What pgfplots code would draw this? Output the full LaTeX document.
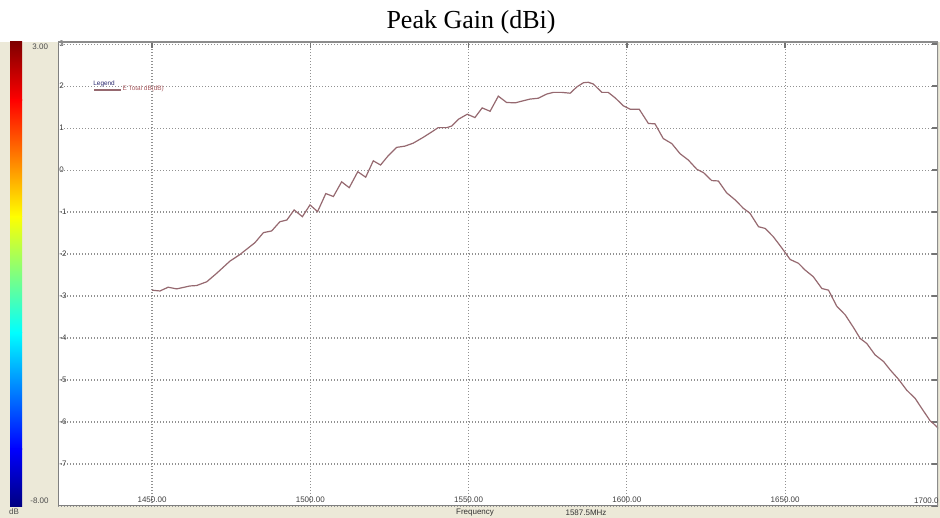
\documentclass[border=0pt]{standalone}
\usepackage{pgfplots}
\pgfplotsset{compat=1.18}
\usepackage{fontspec}
\setmainfont{Liberation Serif}
\newfontfamily\ui{Liberation Sans}
\definecolor{beige}{RGB}{236,233,216}
\definecolor{curve}{RGB}{150,105,112}
\definecolor{gridc}{RGB}{145,145,145}
\definecolor{lgnd}{RGB}{40,40,110}
\definecolor{lgtxt}{RGB}{170,90,95}
\newcommand{\sm}{\ui\fontsize{4}{4.8}\selectfont}
\newcommand{\lgf}{\ui\fontsize{3.2}{3.8}\selectfont}

\begin{document}
\begin{tikzpicture}[x=0.5pt,y=0.5pt]
\useasboundingbox (0,0) rectangle (940,518);
\fill[white] (0,0) rectangle (940,518);
\fill[beige] (0,0) rectangle (940,476);
% colour bar (jet)
\shade[bottom color={rgb,255:red,255;green,0;blue,0}, top color={rgb,255:red,128;green,0;blue,0}] (10,417.6) rectangle (22,476);
\shade[bottom color={rgb,255:red,255;green,255;blue,0}, top color={rgb,255:red,255;green,0;blue,0}] (10,301.3) rectangle (22,418);
\shade[bottom color={rgb,255:red,0;green,255;blue,255}, top color={rgb,255:red,255;green,255;blue,0}] (10,185.1) rectangle (22,301.7);
\shade[bottom color={rgb,255:red,0;green,0;blue,255}, top color={rgb,255:red,0;green,255;blue,255}] (10,68.8) rectangle (22,185.5);
\shade[bottom color={rgb,255:red,0;green,0;blue,128}, top color={rgb,255:red,0;green,0;blue,255}] (10,11) rectangle (22,69.2);
\node[font=\sm, text=black!70, anchor=north west, inner sep=0pt] at (32,474) {3.00};
\node[font=\sm, text=black!70, anchor=south west, inner sep=0pt] at (30,14) {-8.00};
\node[font=\sm, text=black!70, anchor=center, inner sep=0pt] at (14,6) {dB};
\node[font=\sm, text=black!80, anchor=center, inner sep=0pt] at (475,5) {Frequency};
\node[font=\sm, text=black!80, anchor=center, inner sep=0pt] at (586,5) {1587.5MHz};
\node[font=\fontsize{13}{15}\selectfont, anchor=base] at (471,489) {Peak Gain (dBi)};

\begin{axis}[at={(29pt,6pt)}, anchor=south west, width=440pt, height=232pt, scale only axis,
  xmin=1420.3, xmax=1698.3, ymin=-8, ymax=3.05,
  axis background/.style={fill=white},
  axis line style={draw=none},
  xtick={1450,1500,1550,1600,1650},
  xticklabels={1450.00,1500.00,1550.00,1600.00,1650.00},
  ytick={-8,-7,-6,-5,-4,-3,-2,-1,0,1,2,3},
  yticklabels={,-7,-6,-5,-4,-3,-2,-1,0,1,2,3},
  xtick pos=right, ytick pos=right, xticklabel pos=left, yticklabel pos=left,
  tick align=inside, major tick length=3pt,
  tick style={black!55, line width=0.7pt},
  grid=major,
  major grid style={gridc, line width=0.55pt, dash pattern=on 0.5pt off 1pt},
  xticklabel style={font=\sm, anchor=south, yshift=1pt, text=black!75, inner sep=0.5pt},
  yticklabel style={font=\sm, anchor=west, text=black!75, inner sep=0.5pt},
  legend style={at={(0.0398,0.8966)}, anchor=west, draw=none, fill=none,
    font=\lgf, text=lgtxt, inner sep=0pt, nodes={inner sep=0.5pt}},
  legend cell align=left,
  legend image code/.code={\draw[#1] (0pt,0pt) -- (13.5pt,0pt);},
]
\addplot[curve, line width=0.6pt] coordinates {
(1450.0,-2.86) (1452.5,-2.88) (1455.1,-2.79) (1457.8,-2.83) (1462.0,-2.76)
(1464.1,-2.75) (1467.3,-2.66) (1470.4,-2.46) (1474.6,-2.17) (1477.8,-2.01)
(1482.5,-1.73) (1485.2,-1.49) (1487.8,-1.45) (1490.4,-1.23) (1492.6,-1.19)
(1494.9,-0.95) (1497.5,-1.11) (1499.9,-0.83) (1502.3,-0.99) (1504.9,-0.56)
(1507.3,-0.63) (1509.9,-0.28) (1512.3,-0.42) (1515.0,-0.04) (1517.5,-0.17)
(1519.9,0.22) (1522.2,0.12) (1524.6,0.34) (1527.3,0.54) (1529.9,0.57)
(1532.5,0.64) (1535.7,0.78) (1538.4,0.91) (1540.4,1.01) (1543.1,1.01)
(1544.7,1.05) (1546.8,1.21) (1549.6,1.33) (1552.0,1.25) (1554.3,1.48)
(1556.8,1.40) (1559.4,1.76) (1562.0,1.61) (1564.7,1.60) (1567.3,1.65)
(1569.4,1.69) (1572.0,1.71) (1574.7,1.81) (1576.8,1.85) (1579.4,1.85)
(1582.1,1.83) (1584.2,1.98) (1586.3,2.08) (1587.8,2.09) (1589.4,2.05)
(1592.1,1.85) (1594.1,1.85) (1596.3,1.72) (1598.9,1.53) (1601.0,1.45)
(1603.9,1.45) (1606.8,1.11) (1608.9,1.10) (1611.5,0.75) (1614.2,0.63)
(1616.8,0.39) (1619.4,0.24) (1622.1,0.02) (1624.2,-0.06) (1626.8,-0.25)
(1628.9,-0.26) (1631.5,-0.54) (1634.2,-0.71) (1636.8,-0.91) (1638.9,-1.03)
(1641.6,-1.35) (1643.7,-1.39) (1646.3,-1.59) (1649.0,-1.86) (1651.6,-2.13)
(1654.2,-2.22) (1656.3,-2.38) (1658.9,-2.54) (1661.6,-2.82) (1663.7,-2.86)
(1666.3,-3.24) (1669.0,-3.45) (1671.6,-3.75) (1673.7,-4.01) (1675.8,-4.13)
(1678.4,-4.40) (1681.1,-4.56) (1683.2,-4.76) (1685.8,-4.98) (1688.4,-5.24)
(1691.1,-5.44) (1693.2,-5.68) (1695.8,-5.97) (1696.9,-6.04) (1698.5,-6.16)
};
\addlegendentry{E Total dB(dB)}
\draw[black!50, line width=1pt] (rel axis cs:0,0) -- (rel axis cs:0,1);
\draw[black!50, line width=1pt] (rel axis cs:0,0) -- (rel axis cs:1,0);
\draw[black!45, line width=0.8pt] (rel axis cs:0,1) -- (rel axis cs:1,1);
\draw[black!45, line width=0.6pt] (rel axis cs:1,0) -- (rel axis cs:1,1);
\end{axis}
\node[font=\lgf, text=lgnd, anchor=base west, inner sep=0pt] at (93,432) {Legend};
\node[font=\sm, text=black!75, anchor=south east, inner sep=0.5pt] at (940,13.5) {1700.0};
\end{tikzpicture}
\end{document}
